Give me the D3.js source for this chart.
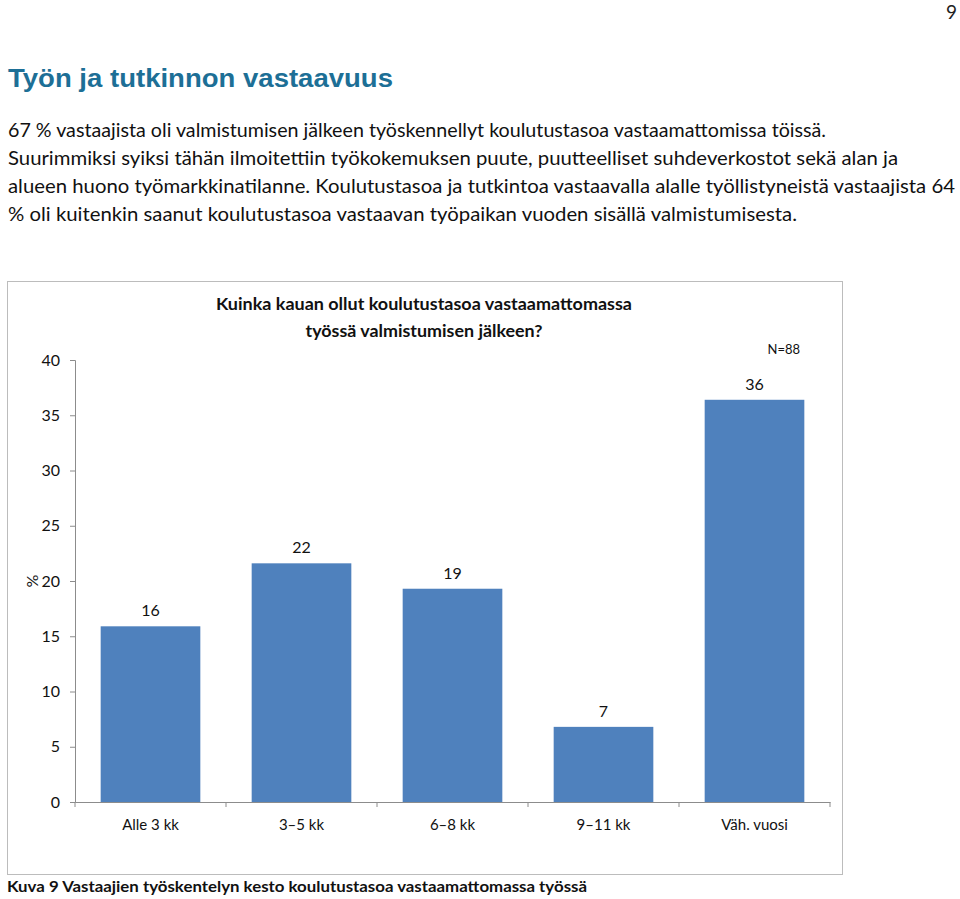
<!DOCTYPE html>
<html>
<head>
<meta charset="utf-8">
<script src="https://cdn.jsdelivr.net/npm/d3@7"></script>
<style>
  body { margin: 0; background: #fff; }
  svg { display: block; }
</style>
</head>
<body>
<div id="vis"></div>
<script>
// chart data (percent of N=88, labels shown rounded)
var categories = ['Alle 3 kk', '3\u20135 kk', '6\u20138 kk', '9\u201311 kk', 'V\u00e4h. vuosi'];
var values = [15.9, 21.6, 19.3, 6.8, 36.4];
var yTicks = [0, 5, 10, 15, 20, 25, 30, 35, 40];

var pageTitle = 'Ty\u00f6n ja tutkinnon vastaavuus';
var bodyLines = [
  '67 % vastaajista oli valmistumisen j\u00e4lkeen ty\u00f6skennellyt koulutustasoa vastaamattomissa t\u00f6iss\u00e4.',
  'Suurimmiksi syiksi t\u00e4h\u00e4n ilmoitettiin ty\u00f6kokemuksen puute, puutteelliset suhdeverkostot sek\u00e4 alan ja',
  'alueen huono ty\u00f6markkinatilanne. Koulutustasoa ja tutkintoa vastaavalla alalle ty\u00f6llistyneist\u00e4 vastaajista 64',
  '% oli kuitenkin saanut koulutustasoa vastaavan ty\u00f6paikan vuoden sis\u00e4ll\u00e4 valmistumisesta.'
];
var chartTitle = ['Kuinka kauan ollut koulutustasoa vastaamattomassa', 'ty\u00f6ss\u00e4 valmistumisen j\u00e4lkeen?'];
var caption = 'Kuva 9 Vastaajien ty\u00f6skentelyn kesto koulutustasoa vastaamattomassa ty\u00f6ss\u00e4';

var width = 960, height = 899;
var bodyFont = 'Lato, "Open Sans", sans-serif';
var barColor = '#4f81bd';
var axisColor = '#8c8c8c';

var svg = d3.select('#vis').append('svg')
  .attr('width', width)
  .attr('height', height);

// page number
svg.append('text')
  .attr('x', 957).attr('y', 19)
  .attr('text-anchor', 'end')
  .attr('font-family', bodyFont)
  .attr('font-size', 19)
  .attr('fill', '#222')
  .text('9');

// heading
svg.append('text')
  .attr('x', 8).attr('y', 87)
  .attr('font-family', '"Liberation Sans", Arial, sans-serif')
  .attr('font-weight', 'bold')
  .attr('font-size', 26)
  .attr('fill', '#1d6f96')
  .attr('textLength', 385)
  .attr('lengthAdjust', 'spacingAndGlyphs')
  .text(pageTitle);

// paragraph
var lineWidths = [818, 890, 947, 789];
svg.selectAll('text.body')
  .data(bodyLines).enter()
  .append('text')
  .attr('class', 'body')
  .attr('x', 8)
  .attr('y', (d, i) => 137 + i * 28)
  .attr('font-family', bodyFont)
  .attr('font-size', 19)
  .attr('fill', '#111')
  .attr('textLength', (d, i) => lineWidths[i])
  .attr('lengthAdjust', 'spacingAndGlyphs')
  .text(d => d);

// chart frame
svg.append('rect')
  .attr('x', 7.5).attr('y', 281.5)
  .attr('width', 835).attr('height', 593)
  .attr('fill', 'none')
  .attr('stroke', '#bcbcbc');

var plot = { left: 75, right: 830, top: 360, bottom: 802 };

var x = d3.scaleBand()
  .domain(categories)
  .range([plot.left, plot.right])
  .paddingInner(0.34)
  .paddingOuter(0.17);

var y = d3.scaleLinear()
  .domain([0, 40])
  .range([plot.bottom, plot.top]);

var g = svg.append('g');

// y axis
var yAxis = g.append('g')
  .attr('transform', 'translate(' + plot.left + ',0)')
  .call(d3.axisLeft(y).tickValues(yTicks).tickSize(5).tickPadding(10));
yAxis.select('.domain').attr('stroke', axisColor);
yAxis.selectAll('.tick line').attr('stroke', axisColor);
yAxis.selectAll('.tick text')
  .attr('font-family', bodyFont)
  .attr('font-size', 16)
  .attr('fill', '#111');

svg.append('text')
  .attr('transform', 'translate(38,581) rotate(-90)')
  .attr('text-anchor', 'middle')
  .attr('font-family', bodyFont)
  .attr('font-size', 16)
  .attr('fill', '#111')
  .text('%');

// bars
g.selectAll('rect.bar')
  .data(values).enter()
  .append('rect')
  .attr('class', 'bar')
  .attr('x', (d, i) => x(categories[i]))
  .attr('y', d => y(d))
  .attr('width', x.bandwidth())
  .attr('height', d => y(0) - y(d))
  .attr('fill', barColor);

// value labels
g.selectAll('text.value')
  .data(values).enter()
  .append('text')
  .attr('class', 'value')
  .attr('x', (d, i) => x(categories[i]) + x.bandwidth() / 2)
  .attr('y', d => y(d) - 10)
  .attr('text-anchor', 'middle')
  .attr('font-family', bodyFont)
  .attr('font-size', 16)
  .attr('fill', '#111')
  .text(d => d3.format('.0f')(d));

// x axis
var xAxis = g.append('g')
  .attr('transform', 'translate(0,' + plot.bottom + ')')
  .call(d3.axisBottom(x).tickSize(0).tickPadding(17).tickSizeOuter(0));
xAxis.select('.domain').attr('stroke', axisColor);
xAxis.selectAll('.tick text')
  .attr('font-family', bodyFont)
  .attr('font-size', 15)
  .attr('fill', '#111');

// tick marks between categories
var step = x.step();
var bounds = [plot.left].concat(categories.map(c => x(c) + x.bandwidth() / 2 + step / 2));
xAxis.selectAll('line.sep')
  .data(bounds).enter()
  .append('line')
  .attr('class', 'sep')
  .attr('x1', d => d).attr('x2', d => d)
  .attr('y1', 0).attr('y2', 5)
  .attr('stroke', axisColor);

// chart title
svg.selectAll('text.ctitle')
  .data(chartTitle).enter()
  .append('text')
  .attr('class', 'ctitle')
  .attr('x', 424)
  .attr('y', (d, i) => 310 + i * 27)
  .attr('text-anchor', 'middle')
  .attr('font-family', bodyFont)
  .attr('font-weight', 'bold')
  .attr('font-size', 17)
  .attr('fill', '#111')
  .attr('textLength', (d, i) => [416, 237][i])
  .attr('lengthAdjust', 'spacingAndGlyphs')
  .text(d => d);

svg.append('text')
  .attr('x', 800).attr('y', 354)
  .attr('text-anchor', 'end')
  .attr('font-family', bodyFont)
  .attr('font-size', 13)
  .attr('fill', '#111')
  .text('N=88');

// caption
svg.append('text')
  .attr('x', 7).attr('y', 892)
  .attr('font-family', bodyFont)
  .attr('font-weight', 'bold')
  .attr('font-size', 16)
  .attr('fill', '#111')
  .attr('textLength', 580)
  .attr('lengthAdjust', 'spacingAndGlyphs')
  .text(caption);
</script>
</body>
</html>
